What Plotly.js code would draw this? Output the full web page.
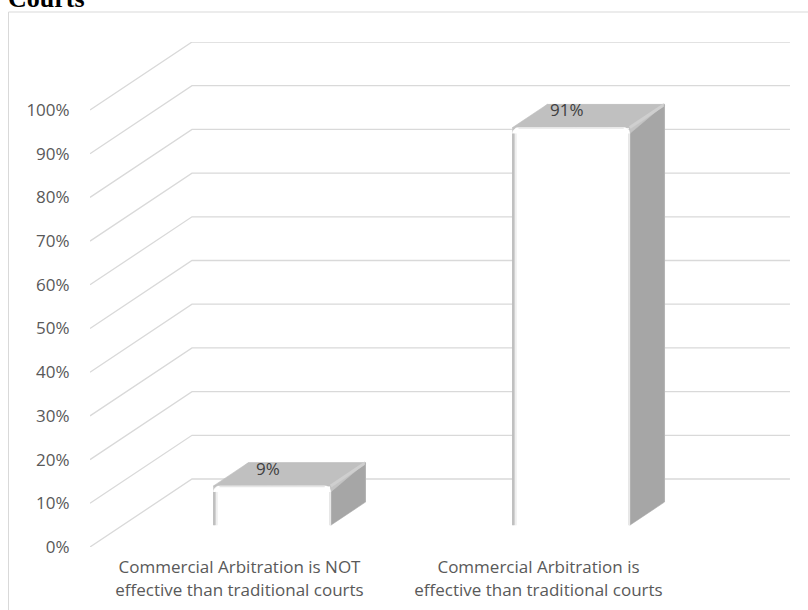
<!DOCTYPE html>
<html>
<head>
<meta charset="utf-8">
<script src="https://cdn.plot.ly/plotly-3.0.1.min.js"></script>
<style>
  html, body { margin: 0; padding: 0; background: #fff; overflow: hidden; }
  #chart { width: 808px; height: 610px; }
</style>
</head>
<body>
<div id="chart"></div>
<script>
// Survey answers (percent of respondents)
const categories = [
  "Commercial Arbitration is NOT<br>effective than traditional courts",
  "Commercial Arbitration is<br>effective than traditional courts"
];
const values = [9, 91];
const tickValues = [0, 10, 20, 30, 40, 50, 60, 70, 80, 90, 100];
const tickLabels = ["0%", "10%", "20%", "30%", "40%", "50%", "60%", "70%", "80%", "90%", "100%"];

// Oblique projection of the depth axis, in axis units
const DX = 0.3411;      // horizontal shift of the back wall (category units)
const DY = 15.56;       // vertical shift of the back wall (percent units)
const D1 = 0.32;        // bar front face depth
const D2 = 0.66;        // bar back face depth
const HALF_W = 0.196;   // half bar width (category units)
const PX = 1 / 299;     // one pixel in category units
const PY = 1 / 4.37;    // one pixel in percent units
const R = 6;            // corner radius of the bar front face, pixels

const FONT = "'Open Sans', Lato, sans-serif";

const traces = [];

// Gridlines: left wall diagonal + back wall horizontal
tickValues.forEach(t => {
  traces.push({
    type: "scatter", mode: "lines", hoverinfo: "skip", showlegend: false,
    x: [-0.5, -0.5 + DX, 1.5 + DX],
    y: [t, t + DY, t + DY],
    line: { color: "#d9d9d9", width: 1.3 }
  });
});

function poly(xs, ys, color) {
  traces.push({
    type: "scatter", mode: "lines", fill: "toself", hoverinfo: "skip", showlegend: false,
    x: xs.concat([xs[0]]), y: ys.concat([ys[0]]),
    fillcolor: color, line: { color: color, width: 0.6 }
  });
}
function seg(xs, ys, color, w) {
  traces.push({
    type: "scatter", mode: "lines", hoverinfo: "skip", showlegend: false,
    x: xs, y: ys, line: { color: color, width: w }
  });
}

const annotations = [];

values.forEach((v, i) => {
  const xl = i + D1 * DX - HALF_W;
  const xr = i + D1 * DX + HALF_W;
  const ddx = (D2 - D1) * DX;
  const y0f = D1 * DY, y0b = D2 * DY;
  const ytf = v + D1 * DY, ytb = v + D2 * DY;
  const rx = R * PX, ry = R * PY;

  // side face
  poly([xr, xr, xr + ddx, xr + ddx], [y0f, ytf, ytb, y0b], "#a6a6a6");
  // top face (reaching slightly down so the rounded corners show grey)
  poly([xl, xl, xr, xr, xr + ddx, xl + ddx], [ytf - ry, ytf, ytf, ytf - ry, ytb, ytb], "#c4c4c4");
  poly([xl, xr, xr + ddx, xl + ddx], [ytf, ytf, ytb, ytb], "#c0c0c0");
  // bevel between top and side
  seg([xr, xr + ddx], [ytf, ytb], "#cfcfcf", 3);
  seg([xr + ddx, xr + ddx], [ytb, y0b], "#b4b4b4", 1.2);

  // front face with rounded top corners
  const fx = [xl, xr], fy = [y0f, y0f];
  for (let k = 0; k <= 6; k++) {
    const a = (k / 6) * Math.PI / 2;
    fx.push(xr - rx + rx * Math.cos(a));
    fy.push(ytf - ry + ry * Math.sin(a));
  }
  for (let k = 0; k <= 6; k++) {
    const a = Math.PI / 2 + (k / 6) * Math.PI / 2;
    fx.push(xl + rx + rx * Math.cos(a));
    fy.push(ytf - ry + ry * Math.sin(a));
  }
  poly(fx, fy, "#ffffff");
  seg([xl + rx, xr - rx], [ytf - 0.5 * PY, ytf - 0.5 * PY], "#e6e6e6", 1.5);
  // left edge shading of the front face
  seg([xl + 0.5 * PX, xl + 0.5 * PX], [y0f, ytf - ry], "#a8a8a8", 1.5);
  seg([xl + 2 * PX, xl + 2 * PX], [y0f, ytf - ry], "#d2d2d2", 1.5);
  seg([xl + 3.5 * PX, xl + 3.5 * PX], [y0f, ytf - ry], "#eeeeee", 1.5);
  // right edge shading of the front face
  seg([xr - 0.8 * PX, xr - 0.8 * PX], [y0f, ytf - ry], "#e2e2e2", 1.5);

  // value label on the top face
  annotations.push({
    x: i + 0.28 * DX, y: v + 0.58 * DY, xref: "x", yref: "y",
    text: v + "%", showarrow: false,
    font: { family: FONT, size: 17, color: "#404040" }
  });
});

// Heading, partially above the top edge
annotations.push({
  x: -0.1195, y: 1.086, xref: "paper", yref: "paper",
  xanchor: "left", yanchor: "middle", showarrow: false,
  text: "<b>Courts</b>",
  font: { family: "'Liberation Serif', 'Times New Roman', serif", size: 26, color: "#000" }
});

const layout = {
  width: 808, height: 610,
  margin: { l: 90, r: 18, t: 42, b: 63 },
  paper_bgcolor: "#ffffff", plot_bgcolor: "#ffffff",
  showlegend: false,
  xaxis: {
    range: [-0.5, -0.5 + 700 / 299],
    tickvals: [0, 1], ticktext: categories,
    showgrid: false, zeroline: false, showline: false,
    ticks: "outside", ticklen: 5, tickcolor: "rgba(0,0,0,0)",
    tickfont: { family: FONT, size: 17, color: "#595959" },
    fixedrange: true
  },
  yaxis: {
    range: [0, 100 + DY],
    tickvals: tickValues, ticktext: tickLabels,
    showgrid: false, zeroline: false, showline: false,
    ticks: "outside", ticklen: 16, tickcolor: "rgba(0,0,0,0)",
    tickfont: { family: FONT, size: 17, color: "#595959" },
    fixedrange: true
  },
  shapes: [
    // outer chart frame
    { type: "line", xref: "paper", yref: "paper",
      x0: -0.1164, x1: -0.1164, y0: 1.0594, y1: -0.2,
      line: { color: "#d9d9d9", width: 1 } },
    { type: "line", xref: "paper", yref: "paper",
      x0: -0.1164, x1: 1.1, y0: 1.0594, y1: 1.0594,
      line: { color: "#d9d9d9", width: 1 } }
  ],
  annotations: annotations
};

Plotly.newPlot("chart", traces, layout, { staticPlot: true, displayModeBar: false });
</script>
</body>
</html>
